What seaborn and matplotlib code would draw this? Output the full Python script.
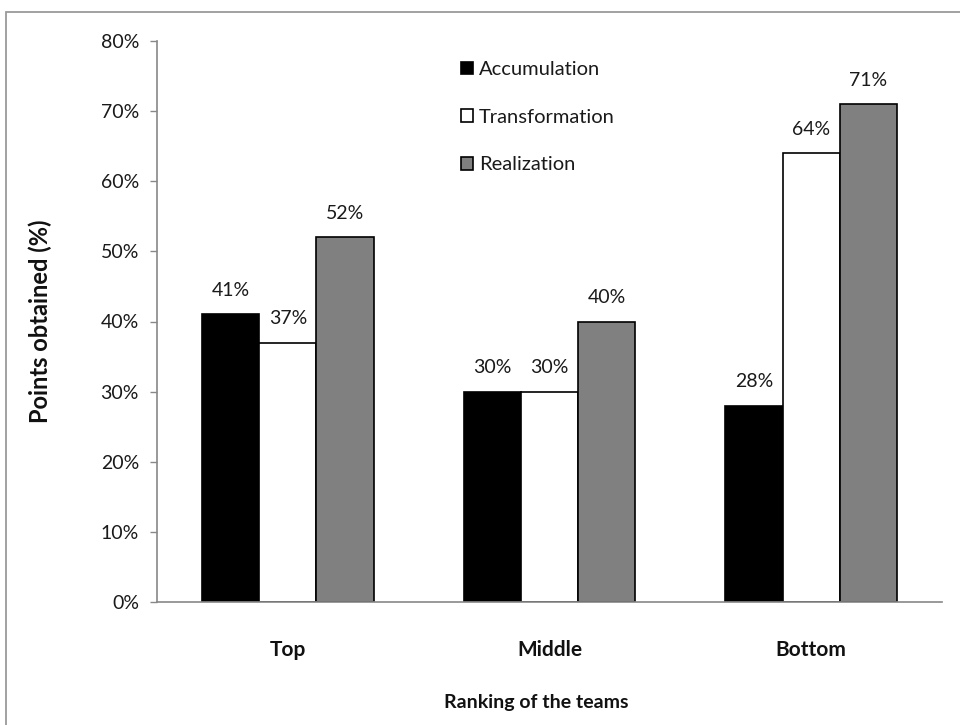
import matplotlib
matplotlib.use("Agg")
import matplotlib.pyplot as plt
from matplotlib.patches import Rectangle, Patch
import seaborn as sns
import pandas as pd

# Points obtained per team ranking group and phase
rankings = ["Top", "Middle", "Bottom"]
phases = ["Accumulation", "Transformation", "Realization"]
accumulation = [41, 30, 28]
transformation = [37, 30, 64]
realization = [52, 40, 71]
y_ticks = [0, 10, 20, 30, 40, 50, 60, 70, 80]

sns.set_theme(style="white")
plt.rcParams["font.family"] = ["Lato", "DejaVu Sans"]

df = pd.DataFrame({
    "Ranking": rankings * 3,
    "Phase": [p for p in phases for _ in rankings],
    "Points": accumulation + transformation + realization,
})

fig = plt.figure(figsize=(9.6, 7.25), dpi=100)
ax_left, ax_width = 157, 785
ax = fig.add_axes([ax_left / 960, 123 / 725, ax_width / 960, 561 / 725])

# Outer chart frame
fig.patches.append(Rectangle((6 / 960, -0.1), 1.2, (725 - 12) / 725 + 0.1,
                             transform=fig.transFigure, fill=False,
                             edgecolor="#9a9a9a", linewidth=1.3, clip_on=False))

palette = {"Accumulation": "black", "Transformation": "white", "Realization": "#808080"}
sns.barplot(data=df, x="Ranking", y="Points", hue="Phase", hue_order=phases,
            order=rankings, palette=palette, width=0.655, edgecolor="black",
            linewidth=1.2, saturation=1, ax=ax, legend=False, errorbar=None)

# Value labels above each bar
for container in ax.containers:
    for bar in container:
        h = bar.get_height()
        ax.annotate(f"{h:.0f}%", (bar.get_x() + bar.get_width() / 2, h),
                    xytext=(0, 11), textcoords="offset points",
                    ha="center", va="bottom", fontsize=14, color="#1a1a1a")

ax.set_ylim(0, 80)
ax.set_xlim(-0.5, 2.5)
ax.set_yticks(y_ticks)
ax.set_yticklabels([f"{t}%" for t in y_ticks], fontsize=14, color="#1a1a1a")
ax.set_xticks([0, 1, 2])
ax.set_xticklabels(rankings, fontsize=15, fontweight="bold", color="#111111")
ax.set_xticks([-0.5, 0.5, 1.5, 2.5], minor=True)
ax.tick_params(axis="x", which="major", length=0, pad=27)
ax.tick_params(axis="x", which="minor", length=6, width=1, color="#888888", direction="out")
ax.tick_params(axis="y", length=5, width=1, color="#888888", direction="out", left=True, pad=8)

for side in ["top", "right"]:
    ax.spines[side].set_visible(False)
for side in ["left", "bottom"]:
    ax.spines[side].set_color("#888888")
    ax.spines[side].set_linewidth(1.2)

ax.set_ylabel("Points obtained (%)", fontsize=17, fontweight="bold", color="#111111")
ax.yaxis.set_label_coords(-(ax_left - 52) / ax_width, 0.5)
ax.set_xlabel("Ranking of the teams", fontsize=14, fontweight="bold", color="#111111")
ax.xaxis.set_label_coords((536 - ax_left) / ax_width, -92 / 561)

handles = [Patch(facecolor=palette[p], edgecolor="black", linewidth=1.2) for p in phases]
leg = ax.legend(handles, phases, loc="upper left",
                bbox_to_anchor=((447 - ax_left) / ax_width, 1 - 6 / 561),
                frameon=False, fontsize=14.5, handlelength=0.6, handleheight=0.6,
                handletextpad=0.3, labelspacing=1.52, borderaxespad=0.3)
for t in leg.get_texts():
    t.set_color("#1a1a1a")

fig.savefig("out.png", dpi=100)
